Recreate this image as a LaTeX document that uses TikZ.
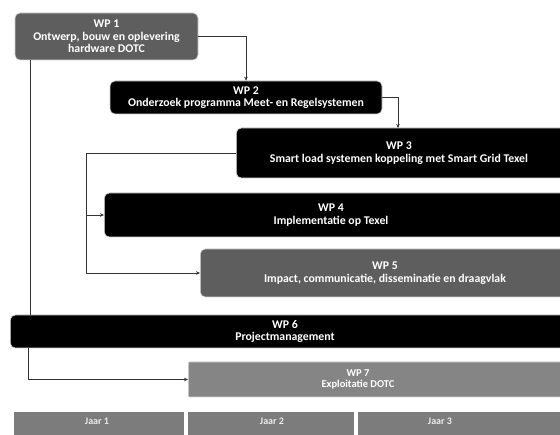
\documentclass[tikz,border=0pt]{standalone}
\usepackage{fontspec}
\setmainfont{Carlito}
\usetikzlibrary{arrows.meta}
\definecolor{gwp}{HTML}{5E5E5E}
\definecolor{gwpl}{HTML}{858585}
\definecolor{gjaar}{HTML}{7C7C7C}
\definecolor{lnk}{HTML}{333333}
\tikzset{
  wpfont/.style={font=\fontsize{11.8}{12.5}\selectfont\bfseries},
  wpbox/.style={rectangle, rounded corners=5pt, text=white, wpfont, align=center, inner sep=0pt, draw=gray!35, line width=0.6pt},
  wptext/.style={text=white, wpfont, align=center, inner sep=0pt},
  blk/.style={wpbox, fill=black},
  gry/.style={wpbox, fill=gwp},
  gryl/.style={wpbox, fill=gwpl, rounded corners=1pt},
  jaarbox/.style={rectangle, fill=gjaar, inner sep=0pt, anchor=north},
  jaartext/.style={font=\fontsize{10}{11}\selectfont\bfseries, text=white!85!gray},
  link/.style={draw=lnk, line width=0.6pt},
  arr/.style={link, -{Stealth[length=4pt,width=3.5pt]}}
}
\begin{document}
\begin{tikzpicture}[x=1pt,y=-1pt]
\useasboundingbox (0,0) rectangle (560,435);
\fill[white] (0,0) rectangle (560,435);
\clip (0,0) rectangle (560,435);
% work packages
\node[gry, minimum width=183pt, minimum height=47pt] (wp1) at (106.5,36.5) {WP 1\\Ontwerp, bouw en oplevering\\hardware DOTC};
\node[blk, minimum width=272pt, minimum height=33pt] (wp2) at (246,97.5) {WP 2\\Onderzoek programma Meet- en Regelsystemen};
\node[blk, minimum width=340pt, minimum height=50pt, anchor=west] (wp3) at (236,153) {};
\node[wptext] (wp3t) at (399,153) {WP 3\\Smart load systemen koppeling met Smart Grid Texel};
\node[blk, minimum width=470pt, minimum height=44pt, anchor=west] (wp4) at (104,215) {};
\node[wptext] (wp4t) at (331,215) {WP 4\\Implementatie op Texel};
\node[gry, minimum width=380pt, minimum height=48pt, anchor=west] (wp5) at (200,273) {};
\node[wptext] (wp5t) at (385,273) {WP 5\\Impact, communicatie, disseminatie en draagvlak};
\node[blk, minimum width=560pt, minimum height=33pt, anchor=west] (wp6) at (10,331.5) {};
\node[wptext] (wp6t) at (285,331.5) {WP 6\\Projectmanagement};
\node[gryl, minimum width=380pt, minimum height=35pt, anchor=west] (wp7) at (188,379.5) {};
\node[wptext, font=\fontsize{10.5}{11.5}\selectfont\bfseries] (wp7t) at (358,379.5) {WP 7\\Exploitatie DOTC};
% years
\node[jaarbox, minimum width=170pt, minimum height=30pt] (j1) at (99,412) {};
\node[jaartext] (j1t) at (97,421) {Jaar 1};
\node[jaarbox, minimum width=166pt, minimum height=30pt] (j2) at (271,412) {};
\node[jaartext] (j2t) at (272,421) {Jaar 2};
\node[jaarbox, minimum width=210pt, minimum height=30pt, anchor=north west] (j3) at (358,412) {};
\node[jaartext] (j3t) at (440,421) {Jaar 3};
% connectors
\coordinate (w3top) at (398,128);
\draw[arr] (wp1.east) -| (wp2.north);
\draw[arr] (wp2.east) -| (w3top);
\coordinate (bendA) at (86,153);
\coordinate (bendB) at (86,215);
\coordinate (bendC) at (86,273);
\draw[link] (wp3.west) -- (bendA) -- (bendC);
\draw[arr] (bendB) -- (wp4.west);
\draw[arr] (bendC) -- (wp5.west);
\coordinate (vA) at (30,60);
\coordinate (vB) at (30,315);
\coordinate (vC) at (28,348);
\coordinate (vD) at (28,379.5);
\draw[link] (vA) -- (vB);
\draw[arr] (vC) -- (vD) -- (wp7.west);
\end{tikzpicture}
\end{document}
